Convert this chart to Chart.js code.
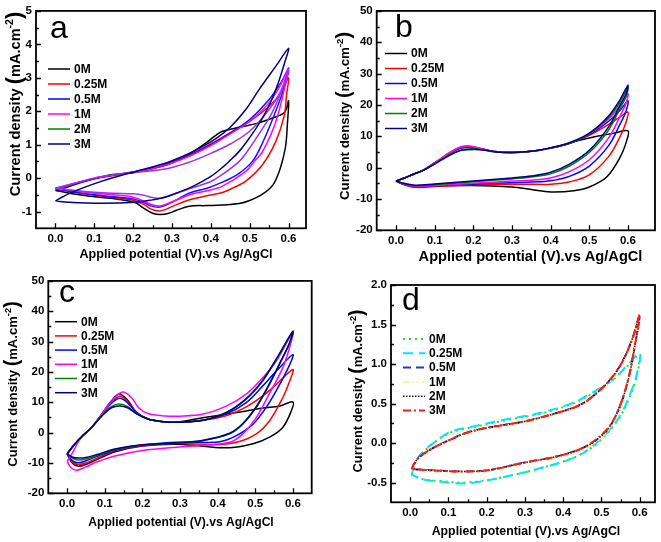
<!DOCTYPE html>
<html><head><meta charset="utf-8">
<script src="https://cdn.jsdelivr.net/npm/chart.js@4.4.1/dist/chart.umd.min.js"></script>
<style>
html,body{margin:0;padding:0;background:#fff;}
#wrap{position:relative;width:661px;height:542px;overflow:hidden;background:#fff;}
.p{position:absolute;}
</style></head><body>
<div id="wrap">
<div class="p" style="left:0;top:0"><canvas id="ca" width="330" height="270"></canvas></div>
<div class="p" style="left:330px;top:0"><canvas id="cb" width="331" height="270"></canvas></div>
<div class="p" style="left:0;top:270px"><canvas id="cc" width="330" height="272"></canvas></div>
<div class="p" style="left:330px;top:270px"><canvas id="cd" width="331" height="272"></canvas></div>
</div>
<script>
// ---------- DATA ----------
const concentrations = ['0M','0.25M','0.5M','1M','2M','3M'];
const xMajorTicks = [0,0.1,0.2,0.3,0.4,0.5,0.6];
const yTicksA = [-1,0,1,2,3,4,5];
const yTicksBC = [-20,-10,0,10,20,30,40,50];
const yTicksD = [-0.5,0,0.5,1.0,1.5,2.0];

// panel a
const a_0M = [[0,-0.37],[0.03,-0.27],[0.07,-0.12],[0.1,-0.02],[0.13,0.07],[0.16,0.12],[0.2,0.16],[0.25,0.28],[0.3,0.45],[0.344,0.72],[0.387,1.05],[0.413,1.28],[0.43,1.4],[0.473,1.52],[0.516,1.63],[0.559,1.8],[0.59,1.97],[0.6,2.31],
  [0.597,1.6],[0.593,0.99],[0.585,0.55],[0.576,0.2],[0.56,-0.2],[0.533,-0.48],[0.5,-0.67],[0.473,-0.76],[0.43,-0.8],[0.39,-0.82],[0.344,-0.84],[0.31,-0.97],[0.29,-1.06],[0.27,-1.09],[0.25,-1.05],[0.225,-0.88],[0.205,-0.73],[0.16,-0.63],[0.08,-0.53],[0,-0.37]];
const a_025M = [[0,-0.32],[0.05,-0.17],[0.1,-0.02],[0.15,0.08],[0.2,0.18],[0.25,0.3],[0.3,0.48],[0.35,0.72],[0.4,1.02],[0.45,1.36],[0.5,1.7],[0.55,2.15],[0.58,2.55],[0.6,3.0],
  [0.595,2.5],[0.589,1.87],[0.567,1.09],[0.533,0.4],[0.49,-0.09],[0.456,-0.3],[0.43,-0.43],[0.39,-0.53],[0.35,-0.63],[0.31,-0.8],[0.28,-0.95],[0.265,-0.98],[0.245,-0.92],[0.23,-0.8],[0.2,-0.66],[0.15,-0.58],[0.1,-0.51],[0.05,-0.42],[0,-0.32]];
const a_05M = [[0,-0.32],[0.05,-0.16],[0.1,-0.01],[0.15,0.09],[0.2,0.18],[0.25,0.3],[0.3,0.47],[0.35,0.7],[0.4,1.0],[0.45,1.35],[0.5,1.75],[0.55,2.35],[0.58,2.85],[0.6,3.25],
  [0.59,2.75],[0.567,2.0],[0.533,1.05],[0.507,0.5],[0.47,0.12],[0.43,-0.12],[0.39,-0.3],[0.344,-0.45],[0.31,-0.66],[0.28,-0.83],[0.265,-0.87],[0.245,-0.83],[0.23,-0.74],[0.2,-0.62],[0.15,-0.56],[0.1,-0.5],[0.05,-0.42],[0,-0.32]];
const a_1M = [[0,-0.3],[0.05,-0.15],[0.1,0.0],[0.15,0.09],[0.2,0.18],[0.25,0.29],[0.3,0.45],[0.35,0.68],[0.4,0.97],[0.45,1.32],[0.5,1.7],[0.55,2.25],[0.58,2.8],[0.6,3.3],
  [0.593,2.85],[0.567,1.68],[0.533,0.79],[0.512,0.5],[0.49,0.2],[0.43,-0.24],[0.39,-0.38],[0.35,-0.48],[0.31,-0.66],[0.28,-0.8],[0.265,-0.83],[0.245,-0.78],[0.23,-0.7],[0.2,-0.57],[0.15,-0.5],[0.1,-0.45],[0.05,-0.38],[0,-0.3]];
const a_2M = [[0,-0.3],[0.05,-0.15],[0.1,0.0],[0.15,0.1],[0.2,0.17],[0.25,0.22],[0.3,0.32],[0.35,0.5],[0.4,0.74],[0.45,1.02],[0.5,1.4],[0.55,2.05],[0.58,2.6],[0.6,3.3],
  [0.59,2.85],[0.575,2.4],[0.555,1.9],[0.533,1.48],[0.5,0.9],[0.473,0.5],[0.43,0.11],[0.4,-0.1],[0.35,-0.3],[0.3,-0.5],[0.27,-0.6],[0.25,-0.58],[0.23,-0.52],[0.2,-0.47],[0.15,-0.45],[0.1,-0.42],[0.05,-0.37],[0,-0.3]];
const a_3M = [[0,-0.68],[0.02,-0.55],[0.051,-0.38],[0.12,-0.09],[0.206,0.2],[0.285,0.45],[0.327,0.65],[0.37,0.89],[0.413,1.18],[0.45,1.52],[0.49,2.05],[0.525,2.66],[0.567,3.34],[0.6,3.88],
  [0.59,3.45],[0.575,2.9],[0.555,2.3],[0.533,1.8],[0.516,1.48],[0.49,1.05],[0.473,0.8],[0.447,0.5],[0.43,0.32],[0.4,0.05],[0.37,-0.15],[0.344,-0.3],[0.31,-0.45],[0.28,-0.58],[0.25,-0.65],[0.206,-0.72],[0.12,-0.75],[0.034,-0.72],[0,-0.68]];

// panel b
const b_0M = [[0,-4.3],[0.02,-3.4],[0.045,-2.1],[0.07,-0.9],[0.105,1.8],[0.14,4.6],[0.165,6.2],[0.19,6.6],[0.22,5.9],[0.25,5.1],[0.3,4.8],[0.35,5.2],[0.4,6.2],[0.43,7.1],[0.475,8.7],[0.52,10.0],[0.563,11.0],[0.6,11.7],
  [0.597,8.7],[0.58,3.4],[0.545,-3.0],[0.5,-6.2],[0.46,-7.4],[0.4,-7.8],[0.35,-7.0],[0.3,-6.2],[0.2,-5.7],[0.1,-5.9],[0.05,-6.2],[0.02,-5.3],[0,-4.3]];
const b_025M = [[0,-4.3],[0.02,-3.4],[0.045,-2.1],[0.07,-0.8],[0.105,2.0],[0.14,4.9],[0.165,6.5],[0.187,6.9],[0.22,6.1],[0.25,5.2],[0.3,4.8],[0.35,5.2],[0.4,6.3],[0.45,7.9],[0.5,10.3],[0.55,13.8],[0.58,16.2],[0.6,17.7],
  [0.595,14.5],[0.58,10],[0.55,3.5],[0.5,-2.3],[0.45,-4.5],[0.4,-5.3],[0.35,-5.3],[0.3,-5.3],[0.2,-5.5],[0.1,-6.0],[0.05,-6.3],[0.02,-5.4],[0,-4.3]];
const b_05M = [[0,-4.3],[0.02,-3.4],[0.045,-2.1],[0.07,-0.9],[0.105,1.8],[0.14,4.6],[0.165,6.2],[0.19,6.5],[0.22,6.0],[0.25,5.2],[0.3,4.8],[0.35,5.2],[0.4,6.3],[0.45,7.8],[0.5,10.5],[0.55,14.8],[0.58,18.3],[0.6,21.3],
  [0.595,18],[0.58,14],[0.55,7],[0.5,0.5],[0.45,-2.7],[0.4,-4.2],[0.35,-4.6],[0.3,-4.8],[0.2,-5.2],[0.1,-5.8],[0.05,-6.1],[0.02,-5.3],[0,-4.3]];
const b_1M = [[0,-4.3],[0.02,-3.4],[0.045,-2.1],[0.07,-0.8],[0.105,2.0],[0.14,4.8],[0.165,6.4],[0.188,6.8],[0.22,6.1],[0.25,5.2],[0.3,4.8],[0.35,5.2],[0.4,6.3],[0.45,7.9],[0.5,10.7],[0.55,15.5],[0.58,19.8],[0.6,23.6],
  [0.595,20.5],[0.58,16.5],[0.55,9.5],[0.5,2.5],[0.45,-1.2],[0.4,-3.3],[0.35,-4.0],[0.3,-4.3],[0.2,-5.0],[0.1,-5.7],[0.05,-6.0],[0.02,-5.2],[0,-4.3]];
const b_2M = [[0,-4.3],[0.02,-3.4],[0.045,-2.1],[0.07,-0.9],[0.105,1.6],[0.14,4.2],[0.17,5.7],[0.2,6.0],[0.23,5.6],[0.26,5.0],[0.3,4.8],[0.35,5.2],[0.4,6.3],[0.45,7.9],[0.5,10.8],[0.55,16],[0.58,21],[0.6,25.5],
  [0.595,22.5],[0.58,19],[0.55,12],[0.5,4.8],[0.45,0.6],[0.4,-2.0],[0.35,-3.0],[0.3,-3.6],[0.2,-4.5],[0.1,-5.4],[0.05,-5.8],[0.02,-5.1],[0,-4.3]];
const b_3M = [[0,-4.3],[0.02,-3.4],[0.045,-2.1],[0.07,-0.9],[0.105,1.5],[0.14,4.0],[0.17,5.5],[0.205,5.8],[0.235,5.5],[0.26,5.0],[0.3,4.8],[0.35,5.2],[0.4,6.3],[0.45,8.0],[0.5,11.0],[0.55,16.5],[0.58,21.8],[0.6,26.3],
  [0.595,23.5],[0.58,20],[0.55,13],[0.5,5.5],[0.45,1.2],[0.4,-1.5],[0.35,-2.7],[0.3,-3.3],[0.2,-4.3],[0.1,-5.2],[0.05,-5.6],[0.02,-5.0],[0,-4.3]];

// panel c
const c_0M = [[0,-7],[0.02,-3.8],[0.04,-1.2],[0.065,1.7],[0.092,6.1],[0.118,10.5],[0.138,12.7],[0.16,10.8],[0.184,6.8],[0.215,4.5],[0.25,3.7],[0.29,3.5],[0.36,4.9],[0.45,6.6],[0.52,8.1],[0.565,8.8],[0.6,10.1],
  [0.596,7.2],[0.573,1.7],[0.538,-1.5],[0.494,-3.7],[0.432,-5.0],[0.36,-4.5],[0.29,-3.8],[0.2,-4.4],[0.13,-6.2],[0.08,-8.8],[0.05,-10.5],[0.03,-11.1],[0.015,-10.2],[0,-7]];
const c_025M = [[0,-7],[0.02,-3.8],[0.04,-1.2],[0.065,1.7],[0.092,6.0],[0.118,10.1],[0.14,12.0],[0.16,10.4],[0.184,6.7],[0.215,4.5],[0.25,3.7],[0.29,3.4],[0.36,4.1],[0.42,5.5],[0.476,8.5],[0.52,12.1],[0.556,15.9],[0.6,20.8],
  [0.59,16.5],[0.573,11.5],[0.538,3.9],[0.503,-0.4],[0.45,-3.2],[0.388,-4.0],[0.3,-3.5],[0.2,-4.3],[0.13,-5.9],[0.08,-8.4],[0.05,-10],[0.03,-10.5],[0.015,-9.8],[0,-7]];
const c_05M = [[0,-7],[0.02,-3.8],[0.04,-1.2],[0.065,1.7],[0.092,5.9],[0.118,9.7],[0.14,11.3],[0.16,9.9],[0.184,6.6],[0.215,4.5],[0.25,3.7],[0.29,3.4],[0.36,4.1],[0.42,6.0],[0.476,9.9],[0.52,15.4],[0.556,20.3],[0.6,25.7],
  [0.59,22],[0.565,15.9],[0.529,8.3],[0.494,2.8],[0.45,-1.0],[0.406,-3.0],[0.35,-3.2],[0.29,-3.2],[0.2,-4.1],[0.13,-5.7],[0.08,-7.8],[0.05,-9.3],[0.03,-9.9],[0.015,-9.3],[0,-7]];
const c_1M = [[0,-9.5],[0.015,-6.5],[0.035,-2.0],[0.065,1.7],[0.092,6.0],[0.12,10.6],[0.147,13.4],[0.171,11.6],[0.19,8.2],[0.215,6.3],[0.26,5.5],[0.3,5.4],[0.362,6.1],[0.424,8.8],[0.476,12.7],[0.52,18.1],[0.556,23.6],[0.6,33],
  [0.59,27.5],[0.57,20.5],[0.538,13],[0.503,5.0],[0.467,-0.4],[0.432,-3.2],[0.362,-4.2],[0.29,-4.8],[0.2,-5.9],[0.13,-7.6],[0.08,-9.6],[0.05,-11.3],[0.025,-12.4],[0.01,-11.5],[0,-9.5]];
const c_2M = [[0,-7],[0.02,-3.8],[0.04,-1.2],[0.065,1.7],[0.092,5.6],[0.118,8.6],[0.138,9.4],[0.16,8.6],[0.184,6.3],[0.215,4.5],[0.25,3.7],[0.29,3.4],[0.362,4.1],[0.424,6.6],[0.476,11.0],[0.52,17],[0.556,24.1],[0.6,33.2],
  [0.59,29],[0.573,24.6],[0.538,15.9],[0.503,8.3],[0.467,2.8],[0.432,-0.4],[0.362,-2.6],[0.29,-3.5],[0.2,-4.1],[0.13,-5.5],[0.08,-7.5],[0.05,-8.7],[0.03,-9.0],[0.015,-8.5],[0,-7]];
const c_3M = [[0,-7],[0.02,-3.8],[0.04,-1.2],[0.065,1.7],[0.092,5.4],[0.118,8.2],[0.14,8.8],[0.162,8.1],[0.186,6.1],[0.215,4.5],[0.25,3.7],[0.29,3.4],[0.362,4.1],[0.424,6.7],[0.476,11.2],[0.52,17.3],[0.556,24.3],[0.6,33.4],
  [0.59,29.3],[0.573,24.9],[0.538,16.2],[0.503,8.6],[0.467,3.0],[0.432,-0.2],[0.362,-2.5],[0.29,-3.4],[0.2,-4.0],[0.13,-5.3],[0.08,-7.2],[0.05,-8.2],[0.03,-8.4],[0.015,-8.1],[0,-7]];

// panel d
const d_0M = [[0.004,-0.41],[0.017,-0.22],[0.04,-0.09],[0.061,0.0],[0.104,0.13],[0.165,0.2],[0.252,0.29],[0.339,0.37],[0.426,0.5],[0.487,0.66],[0.53,0.8],[0.565,0.96],[0.6,1.12],
  [0.596,0.93],[0.583,0.7],[0.548,0.33],[0.496,0.03],[0.435,-0.17],[0.339,-0.32],[0.235,-0.44],[0.148,-0.5],[0.08,-0.48],[0.035,-0.46],[0.004,-0.41]];
const d_025M = [[0.004,-0.4],[0.017,-0.21],[0.04,-0.08],[0.061,0.0],[0.104,0.14],[0.165,0.21],[0.252,0.3],[0.339,0.38],[0.426,0.51],[0.487,0.67],[0.53,0.8],[0.565,0.97],[0.6,1.14],
  [0.596,0.95],[0.583,0.72],[0.548,0.34],[0.496,0.04],[0.435,-0.17],[0.339,-0.32],[0.235,-0.44],[0.148,-0.51],[0.08,-0.49],[0.035,-0.46],[0.004,-0.4]];
const d_05M = [[0.004,-0.33],[0.012,-0.25],[0.026,-0.17],[0.061,-0.06],[0.104,0.04],[0.148,0.13],[0.209,0.2],[0.296,0.27],[0.383,0.38],[0.443,0.48],[0.487,0.63],[0.526,0.82],[0.557,1.05],[0.583,1.35],[0.6,1.62],
  [0.587,1.22],[0.57,0.8],[0.548,0.46],[0.522,0.21],[0.487,0.04],[0.443,-0.08],[0.383,-0.17],[0.296,-0.25],[0.209,-0.34],[0.148,-0.36],[0.078,-0.35],[0.004,-0.33]];
const d_1M = [[0.004,-0.34],[0.012,-0.26],[0.026,-0.18],[0.061,-0.07],[0.104,0.03],[0.148,0.12],[0.209,0.19],[0.296,0.26],[0.383,0.37],[0.443,0.47],[0.487,0.61],[0.526,0.8],[0.557,1.02],[0.583,1.32],[0.6,1.6],
  [0.587,1.2],[0.57,0.78],[0.548,0.44],[0.522,0.19],[0.487,0.02],[0.443,-0.1],[0.383,-0.18],[0.296,-0.26],[0.209,-0.35],[0.148,-0.37],[0.078,-0.36],[0.004,-0.34]];
const d_2M = [[0.004,-0.33],[0.012,-0.25],[0.026,-0.17],[0.061,-0.06],[0.104,0.04],[0.148,0.13],[0.209,0.2],[0.296,0.27],[0.383,0.38],[0.443,0.48],[0.487,0.63],[0.526,0.82],[0.557,1.05],[0.583,1.35],[0.6,1.62],
  [0.587,1.22],[0.57,0.8],[0.548,0.46],[0.522,0.21],[0.487,0.04],[0.443,-0.08],[0.383,-0.17],[0.296,-0.25],[0.209,-0.34],[0.148,-0.36],[0.078,-0.35],[0.004,-0.33]];
const d_3M = [[0.004,-0.33],[0.012,-0.25],[0.026,-0.17],[0.061,-0.06],[0.104,0.04],[0.148,0.13],[0.209,0.2],[0.296,0.27],[0.383,0.38],[0.443,0.48],[0.487,0.63],[0.526,0.82],[0.557,1.05],[0.583,1.35],[0.6,1.63],
  [0.587,1.23],[0.57,0.81],[0.548,0.47],[0.522,0.22],[0.487,0.05],[0.443,-0.08],[0.383,-0.17],[0.296,-0.25],[0.209,-0.34],[0.148,-0.36],[0.078,-0.35],[0.004,-0.33]];

// ---------- STYLE ----------
const FONT = '"Liberation Sans", Arial, Helvetica, sans-serif';
const colorsABC = ['#000000','#ff0000','#0000ff','#ff00ff','#008000','#000080'];

function range(a, b, s) { const r = []; for (let v = a; v <= b + 1e-9; v += s) r.push(+v.toFixed(4)); return r; }

const decor = {
  id: 'decor',
  afterDraw(chart, args, o) {
    const {ctx, chartArea: ca, scales: {x, y}} = chart;
    ctx.save();
    ctx.strokeStyle = '#000';
    ctx.lineWidth = 1.3;
    ctx.setLineDash([]);
    ctx.beginPath();
    const tick = (v, len, horiz) => {
      if (horiz) { const px = Math.round(x.getPixelForValue(v)) + 0.5; ctx.moveTo(px, ca.bottom); ctx.lineTo(px, ca.bottom - len); }
      else { const py = Math.round(y.getPixelForValue(v)) + 0.5; ctx.moveTo(ca.left, py); ctx.lineTo(ca.left + len, py); }
    };
    o.xMajor.forEach(v => tick(v, 5, true));
    o.xMinor.forEach(v => tick(v, 3, true));
    o.yMajor.forEach(v => tick(v, 5, false));
    o.yMinor.forEach(v => tick(v, 3, false));
    ctx.stroke();
    ctx.lineWidth = 1.8;
    ctx.strokeRect(ca.left, ca.top, ca.right - ca.left, ca.bottom - ca.top);

    ctx.fillStyle = '#000';
    ctx.textAlign = 'left';
    ctx.textBaseline = 'alphabetic';
    ctx.font = '32px ' + FONT;
    ctx.fillText(o.letter, o.letterX, o.letterY);

    // legend
    ctx.font = 'bold 12px ' + FONT;
    ctx.textBaseline = 'middle';
    chart.data.datasets.forEach((d, i) => {
      const yy = o.legY + i * o.legDy;
      ctx.strokeStyle = (o.legColors && o.legColors[i]) || d.borderColor;
      ctx.lineWidth = d.borderWidth;
      ctx.setLineDash(d.borderDash || []);
      ctx.beginPath();
      ctx.moveTo(o.legX, yy); ctx.lineTo(o.legX + 22, yy);
      ctx.stroke();
      ctx.setLineDash([]);
      ctx.fillText(d.label, o.legX + 26, yy + 0.5);
    });

    // x title
    ctx.textAlign = 'center';
    ctx.textBaseline = 'middle';
    ctx.font = 'bold ' + o.xtSize + 'px ' + FONT;
    ctx.fillText('Applied potential (V).vs Ag/AgCl', o.xtX, o.xtY);

    // y title with superscript
    const s = o.ytSize;
    const parts = [
      {t: 'Current density ', f: 'bold ' + s + 'px ' + FONT, dy: 0},
      {t: '(', f: 'bold ' + (s * 1.5) + 'px ' + FONT, dy: -0.5},
      {t: 'mA.cm', f: 'bold ' + s + 'px ' + FONT, dy: 0},
      {t: '-2', f: 'bold ' + (s * 0.72) + 'px ' + FONT, dy: -s * 0.4},
      {t: ')', f: 'bold ' + (s * 1.5) + 'px ' + FONT, dy: -0.5}
    ];
    let tw = 0;
    parts.forEach(p => { ctx.font = p.f; p.w = ctx.measureText(p.t).width; tw += p.w; });
    ctx.translate(o.ytX, o.ytY);
    ctx.rotate(-Math.PI / 2);
    ctx.textAlign = 'left';
    let cx = -tw / 2;
    parts.forEach(p => { ctx.font = p.f; ctx.fillText(p.t, cx, p.dy + 0.5); cx += p.w; });
    ctx.restore();
  }
};

function makeDatasets(arrs, colors, extras) {
  return arrs.map((pts, i) => Object.assign({
    label: concentrations[i],
    data: pts.map(p => ({x: p[0], y: p[1]})),
    borderColor: colors[i],
    backgroundColor: colors[i],
    borderWidth: 1.5,
    pointRadius: 0,
    pointHoverRadius: 0,
    showLine: true,
    fill: false,
    tension: 0.35,
    order: -i
  }, extras ? extras[i] : {}));
}

function makeChart(id, W, H, area, xr, yr, yTicks, yFmt, datasets, dec) {
  const tickFont = {family: FONT, size: 11.5, weight: 'bold'};
  return new Chart(document.getElementById(id), {
    type: 'scatter',
    data: {datasets},
    options: {
      responsive: false,
      animation: false,
      devicePixelRatio: 1,
      layout: {padding: {left: 0, top: area.t, right: W - area.r, bottom: 0}},
      plugins: {legend: {display: false}, tooltip: {enabled: false}, decor: dec},
      scales: {
        x: {
          type: 'linear', min: xr[0], max: xr[1],
          afterBuildTicks: s => { s.ticks = xMajorTicks.map(v => ({value: v})); },
          afterFit: s => { s.height = H - area.b; },
          ticks: {font: tickFont, color: '#000', padding: 4, autoSkip: false, maxRotation: 0, callback: v => v.toFixed(1)},
          grid: {display: false, drawTicks: false},
          border: {display: false}
        },
        y: {
          type: 'linear', min: yr[0], max: yr[1],
          afterBuildTicks: s => { s.ticks = yTicks.map(v => ({value: v})); },
          afterFit: s => { s.width = area.l; },
          ticks: {font: tickFont, color: '#000', padding: 4, autoSkip: false, callback: yFmt},
          grid: {display: false, drawTicks: false},
          border: {display: false}
        }
      }
    },
    plugins: [decor]
  });
}

const xMinor = range(0.05, 0.55, 0.1);

// Panel a
makeChart('ca', 330, 270, {l: 36, r: 306, t: 7, b: 228.3}, [-0.05, 0.645], [-1.5, 5], yTicksA, v => String(v),
  makeDatasets([a_0M, a_025M, a_05M, a_1M, a_2M, a_3M], ['#000000','#ff0000','#1010ff','#ff00ff','#9933ee','#000080']),
  {letter: 'a', letterX: 50, letterY: 38, legX: 48, legY: 69, legDy: 15,
   legColors: colorsABC,
   xtX: 176, xtY: 255, xtSize: 12.6, ytX: 15, ytY: 104, ytSize: 14.6,
   xMajor: xMajorTicks, xMinor, yMajor: yTicksA, yMinor: range(-0.5, 4.5, 1)});

// Panel b
makeChart('cb', 331, 270, {l: 46.7, r: 325, t: 10.5, b: 230.3}, [-0.05, 0.67], [-20, 50], yTicksBC, v => String(v),
  makeDatasets([b_0M, b_025M, b_05M, b_1M, b_2M, b_3M], colorsABC),
  {letter: 'b', letterX: 65, letterY: 37, legX: 55, legY: 53.5, legDy: 15,
   xtX: 200.5, xtY: 256.5, xtSize: 14.6, ytX: 15, ytY: 116, ytSize: 13.3,
   xMajor: xMajorTicks, xMinor, yMajor: yTicksBC, yMinor: range(-15, 45, 10)});

// Panel c
makeChart('cc', 330, 272, {l: 48.3, r: 311.7, t: 9.3, b: 223.3}, [-0.05, 0.65], [-20, 50], yTicksBC, v => String(v),
  makeDatasets([c_0M, c_025M, c_05M, c_1M, c_2M, c_3M], colorsABC),
  {letter: 'c', letterX: 59, letterY: 32, legX: 55, legY: 51.7, legDy: 14.2,
   xtX: 181, xtY: 252.7, xtSize: 12.1, ytX: 13, ytY: 114, ytSize: 13.1,
   xMajor: xMajorTicks, xMinor, yMajor: yTicksBC, yMinor: range(-15, 45, 10)});

// Panel d
const dExtras = [
  {borderColor: '#22dd22', borderDash: [2, 4], borderWidth: 2},
  {borderColor: '#00e8f0', borderDash: [10, 6], borderWidth: 2},
  {borderColor: '#3333bb', borderDash: [8, 5], borderWidth: 2},
  {borderColor: '#f8f4a0', borderDash: [6, 3, 2, 3, 2, 3], borderWidth: 2},
  {borderColor: '#111111', borderDash: [1.5, 1.5], borderWidth: 1.5},
  {borderColor: '#ff1a1a', borderDash: [8, 3, 2, 3], borderWidth: 2}
];
makeChart('cd', 331, 272, {l: 61, r: 325, t: 15, b: 232.3}, [-0.05, 0.64], [-0.75, 2.0], yTicksD, v => v.toFixed(1),
  makeDatasets([d_0M, d_025M, d_05M, d_1M, d_2M, d_3M], colorsABC, dExtras),
  {letter: 'd', letterX: 72, letterY: 40, legX: 73, legY: 69, legDy: 14.3,
   xtX: 196, xtY: 261.7, xtSize: 12.3, ytX: 28, ytY: 121, ytSize: 12.9,
   xMajor: xMajorTicks, xMinor, yMajor: yTicksD, yMinor: range(-0.25, 1.75, 0.5)});
</script>
</body></html>
